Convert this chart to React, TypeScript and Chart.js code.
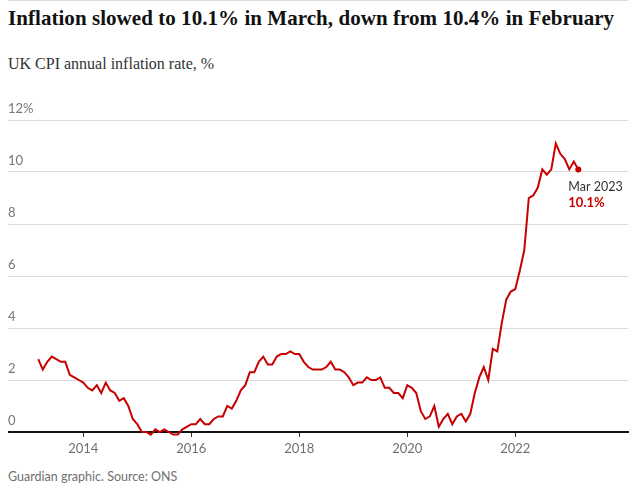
import React, { useEffect, useRef } from "react";
import { Chart, registerables } from "chart.js";

Chart.register(...registerables);

// UK CPI annual inflation rate, % (monthly, from March 2013)
const startYear = 2013;
const startMonth = 3; // March
const cpi2013 = [2.8, 2.4, 2.7, 2.9, 2.8, 2.7, 2.7, 2.2, 2.1, 2.0];
const cpi2014 = [1.9, 1.7, 1.6, 1.8, 1.5, 1.9, 1.6, 1.5, 1.2, 1.3, 1.0, 0.5];
const cpi2015 = [0.3, 0.0, 0.0, -0.1, 0.1, 0.0, 0.1, 0.0, -0.1, -0.1, 0.1, 0.2];
const cpi2016 = [0.3, 0.3, 0.5, 0.3, 0.3, 0.5, 0.6, 0.6, 1.0, 0.9, 1.2, 1.6];
const cpi2017 = [1.8, 2.3, 2.3, 2.7, 2.9, 2.6, 2.6, 2.9, 3.0, 3.0, 3.1, 3.0];
const cpi2018 = [3.0, 2.7, 2.5, 2.4, 2.4, 2.4, 2.5, 2.7, 2.4, 2.4, 2.3, 2.1];
const cpi2019 = [1.8, 1.9, 1.9, 2.1, 2.0, 2.0, 2.1, 1.7, 1.7, 1.5, 1.5, 1.3];
const cpi2020 = [1.8, 1.7, 1.5, 0.8, 0.5, 0.6, 1.0, 0.2, 0.5, 0.7, 0.3, 0.6];
const cpi2021 = [0.7, 0.4, 0.7, 1.5, 2.1, 2.5, 2.0, 3.2, 3.1, 4.2, 5.1, 5.4];
const cpi2022 = [5.5, 6.2, 7.0, 9.0, 9.1, 9.4, 10.1, 9.9, 10.1, 11.1, 10.7, 10.5];
const cpi2023 = [10.1, 10.4, 10.1];

const xTickYears = [2014, 2016, 2018, 2020, 2022];
const yTickValues = [0, 2, 4, 6, 8, 10, 12];
const yTickLabels = ["0", "2", "4", "6", "8", "10", "12%"];
const lastLabel = "Mar 2023";

const TITLE = "Inflation slowed to 10.1% in March, down from 10.4% in February";
const SUBTITLE = "UK CPI annual inflation rate, %";
const SOURCE = "Guardian graphic. Source: ONS";

const RED = "#c70000";
const SANS = "Lato, 'Open Sans', sans-serif";

export default function App() {
  const canvasRef = useRef<HTMLCanvasElement | null>(null);

  useEffect(() => {
    const allValues = [
      ...cpi2013, ...cpi2014, ...cpi2015, ...cpi2016, ...cpi2017, ...cpi2018,
      ...cpi2019, ...cpi2020, ...cpi2021, ...cpi2022, ...cpi2023,
    ];
    const points = allValues.map((v, i) => ({
      x: startYear + (startMonth - 1 + i) / 12,
      y: v,
    }));

    const yLabelsPlugin = {
      id: "yLabels",
      afterDatasetsDraw(chart: any) {
        const { ctx, chartArea, scales } = chart;
        ctx.save();
        ctx.font = `13px ${SANS}`;
        ctx.fillStyle = "#767676";
        ctx.textAlign = "left";
        ctx.textBaseline = "alphabetic";
        yTickValues.forEach((v, i) => {
          const y = scales.y.getPixelForValue(v);
          ctx.fillText(yTickLabels[i], chartArea.left, y - 7);
        });
        // last point annotation
        const last = points[points.length - 1];
        const px = scales.x.getPixelForValue(last.x);
        const py = scales.y.getPixelForValue(last.y);
        ctx.beginPath();
        ctx.arc(px, py, 3, 0, Math.PI * 2);
        ctx.fillStyle = RED;
        ctx.fill();
        ctx.font = `12.5px ${SANS}`;
        ctx.fillStyle = "#333333";
        ctx.fillText(lastLabel, px - 10, py + 21.5);
        ctx.font = `bold 13px ${SANS}`;
        ctx.fillStyle = RED;
        ctx.fillText(`${last.y.toFixed(1)}%`, px - 10, py + 38);
        ctx.restore();
      },
    };

    const chart = new Chart(canvasRef.current as HTMLCanvasElement, {
      type: "line",
      data: {
        datasets: [
          {
            data: points,
            borderColor: RED,
            borderWidth: 2,
            pointRadius: 0,
            tension: 0,
            clip: false as any,
          },
        ],
      },
      options: {
        animation: false,
        responsive: false,
        events: [],
        layout: { padding: { top: 30, right: 6, left: 0, bottom: 0 } },
        plugins: {
          legend: { display: false },
          tooltip: { enabled: false },
          title: { display: false },
        },
        scales: {
          x: {
            type: "linear",
            min: 2012.606,
            max: 2024.087,
            afterFit: (scale: any) => {
              scale.height = 28;
            },
            afterBuildTicks: (scale: any) => {
              scale.ticks = xTickYears.map((v) => ({ value: v }));
            },
            ticks: {
              callback: (v: any) => String(v),
              color: "#707070",
              font: { family: SANS, size: 13 },
              padding: 4,
              maxRotation: 0,
              autoSkip: false,
            },
            grid: {
              drawOnChartArea: false,
              drawTicks: true,
              tickLength: 5,
              color: "#333333",
              lineWidth: 1,
            },
            border: { display: true, color: "#121212", width: 2 },
          },
          y: {
            type: "linear",
            min: 0,
            max: 12,
            afterFit: (scale: any) => {
              scale.width = 0;
            },
            afterBuildTicks: (scale: any) => {
              scale.ticks = yTickValues.map((v) => ({ value: v }));
            },
            ticks: { display: false },
            grid: {
              drawTicks: false,
              color: (c: any) => (c.tick && c.tick.value === 0 ? "rgba(0,0,0,0)" : "#dcdcdc"),
              lineWidth: 1,
            },
            border: { display: false },
          },
        },
      },
      plugins: [yLabelsPlugin],
    });
    return () => chart.destroy();
  }, []);

  return (
    <div style={{ position: "absolute", left: 0, top: 0, width: 642, height: 489, background: "#fff" }}>
      <div style={{ position: "absolute", left: 8, top: 0, width: 620, height: 1, background: "#dcdcdc" }} />
      <div
        style={{
          position: "absolute",
          left: 8,
          top: 8,
          whiteSpace: "nowrap",
          fontFamily: "'Liberation Serif', serif",
          fontWeight: 700,
          fontSize: 21,
          letterSpacing: "0.05px",
          lineHeight: "21px",
          color: "#121212",
        }}
      >
        {TITLE}
      </div>
      <div
        style={{
          position: "absolute",
          left: 8,
          top: 56,
          whiteSpace: "nowrap",
          fontFamily: "'Liberation Serif', serif",
          fontSize: 16,
          lineHeight: "16px",
          color: "#333333",
        }}
      >
        {SUBTITLE}
      </div>
      <canvas
        ref={canvasRef}
        width={626}
        height={370}
        style={{ position: "absolute", left: 8, top: 90, width: 626, height: 370 }}
      />
      <div
        style={{
          position: "absolute",
          left: 8,
          top: 470,
          whiteSpace: "nowrap",
          fontFamily: SANS,
          fontSize: 12.5,
          lineHeight: "14px",
          color: "#707070",
        }}
      >
        {SOURCE}
      </div>
    </div>
  );
}
